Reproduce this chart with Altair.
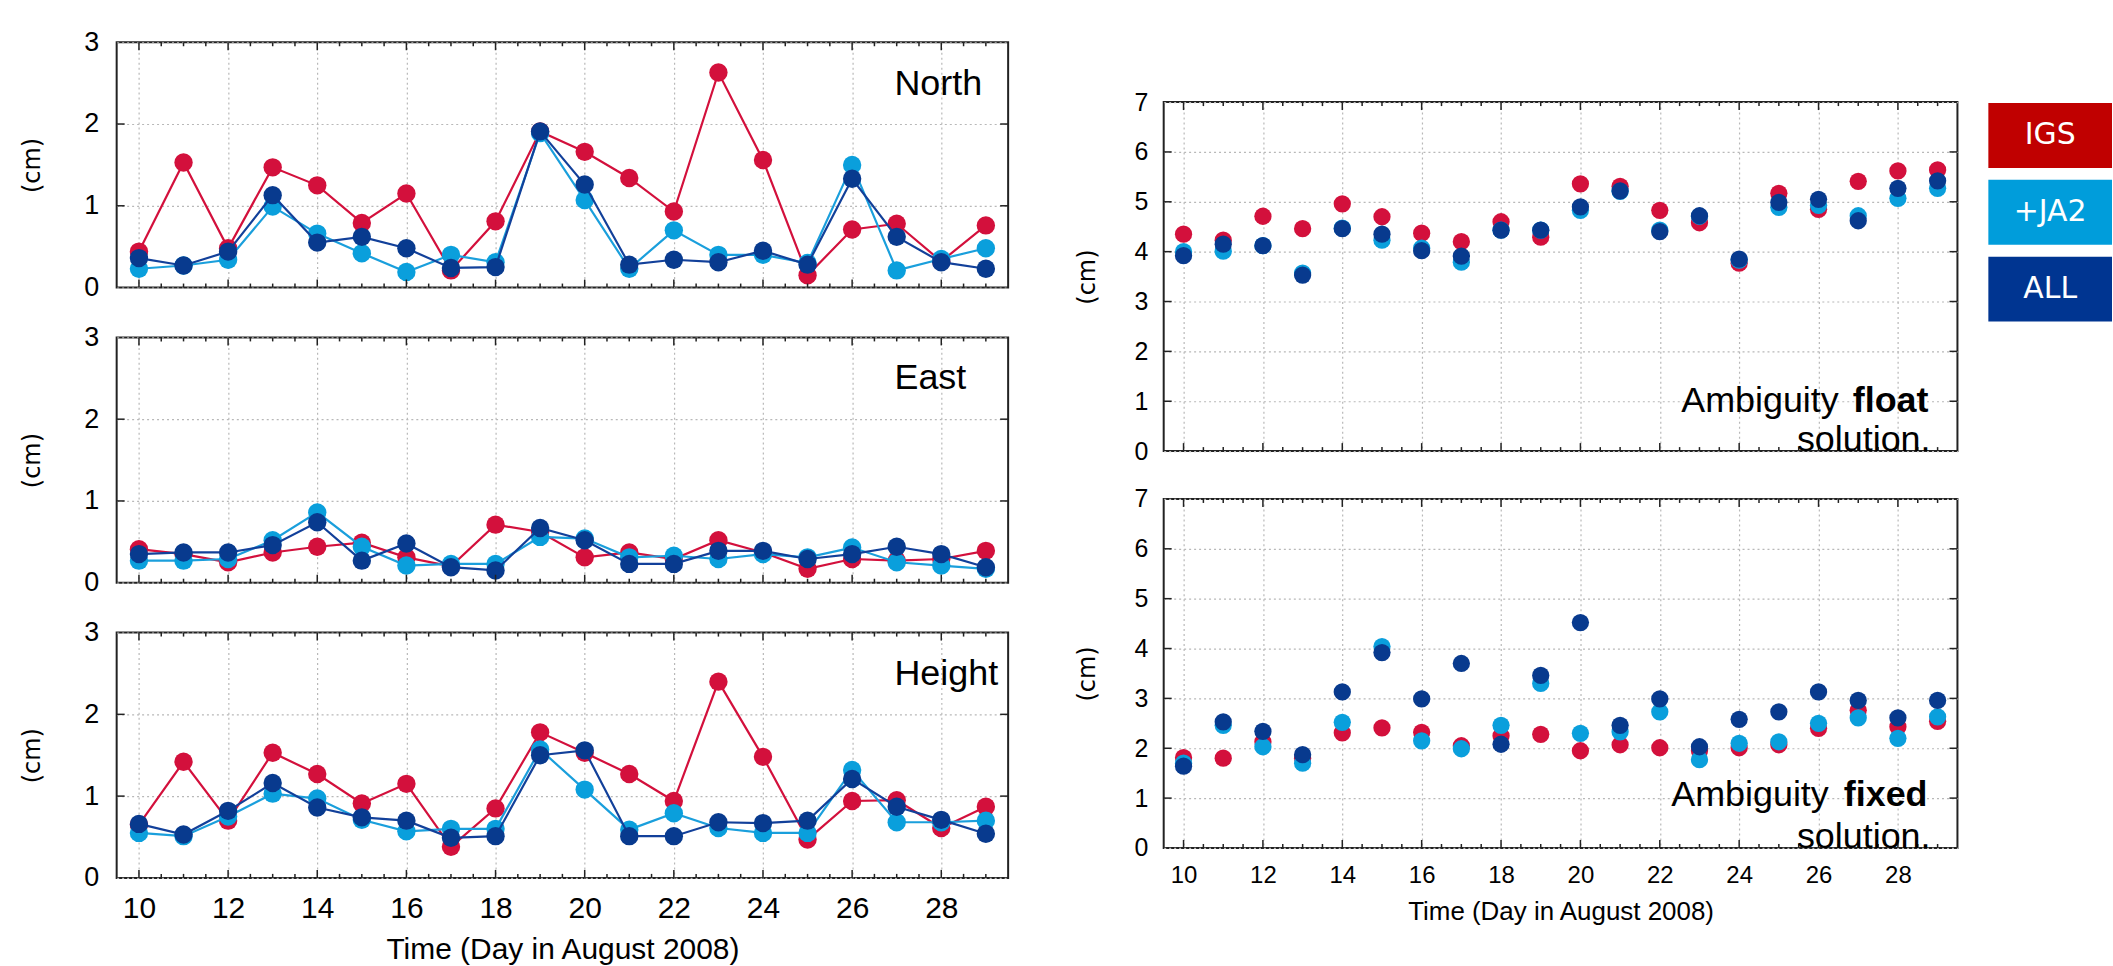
import altair as alt
import pandas as pd
import numpy as np

DAYS = [10, 11, 12, 13, 14, 15, 16, 17, 18, 19, 20, 21, 22, 23, 24, 25, 26, 27, 28, 29]
SERIES = ["IGS", "+JA2", "ALL"]

NORTH_IGS = [0.44, 1.53, 0.48, 1.47, 1.25, 0.79, 1.15, 0.21, 0.81, 1.91, 1.66, 1.34, 0.93, 2.63, 1.56, 0.15, 0.71, 0.78, 0.32, 0.76]
NORTH_JA2 = [0.23, 0.27, 0.34, 0.99, 0.66, 0.42, 0.19, 0.40, 0.31, 1.89, 1.07, 0.23, 0.70, 0.40, 0.40, 0.30, 1.50, 0.21, 0.35, 0.48]
NORTH_ALL = [0.36, 0.27, 0.44, 1.13, 0.55, 0.62, 0.48, 0.24, 0.25, 1.91, 1.26, 0.28, 0.34, 0.31, 0.45, 0.28, 1.33, 0.62, 0.31, 0.23]

EAST_IGS = [0.41, 0.35, 0.25, 0.37, 0.44, 0.49, 0.31, 0.20, 0.71, 0.62, 0.31, 0.37, 0.29, 0.52, 0.37, 0.17, 0.29, 0.27, 0.29, 0.39]
EAST_JA2 = [0.27, 0.27, 0.29, 0.52, 0.86, 0.44, 0.21, 0.23, 0.23, 0.56, 0.54, 0.31, 0.33, 0.29, 0.35, 0.31, 0.43, 0.25, 0.21, 0.17]
EAST_ALL = [0.35, 0.37, 0.37, 0.46, 0.74, 0.27, 0.48, 0.19, 0.15, 0.67, 0.52, 0.23, 0.23, 0.39, 0.39, 0.29, 0.35, 0.44, 0.35, 0.19]

HEIGHT_IGS = [0.65, 1.42, 0.70, 1.53, 1.27, 0.91, 1.15, 0.38, 0.85, 1.78, 1.53, 1.27, 0.94, 2.40, 1.48, 0.47, 0.94, 0.95, 0.61, 0.87]
HEIGHT_JA2 = [0.55, 0.51, 0.75, 1.03, 0.97, 0.71, 0.57, 0.60, 0.60, 1.57, 1.08, 0.59, 0.79, 0.61, 0.55, 0.55, 1.32, 0.68, 0.68, 0.70]
HEIGHT_ALL = [0.66, 0.53, 0.82, 1.16, 0.86, 0.74, 0.70, 0.49, 0.51, 1.50, 1.56, 0.51, 0.51, 0.68, 0.67, 0.70, 1.21, 0.87, 0.71, 0.54]

FLOAT_IGS = [4.35, 4.23, 4.71, 4.46, 4.96, 4.70, 4.37, 4.20, 4.60, 4.29, 5.36, 5.31, 4.83, 4.58, 3.77, 5.17, 4.85, 5.41, 5.62, 5.64]
FLOAT_JA2 = [4.00, 4.01, 4.12, 3.57, 4.47, 4.23, 4.07, 3.79, 4.43, 4.43, 4.83, 5.21, 4.43, 4.71, 3.83, 4.89, 4.93, 4.72, 5.07, 5.27]
FLOAT_ALL = [3.92, 4.15, 4.12, 3.53, 4.46, 4.35, 4.02, 3.91, 4.43, 4.43, 4.90, 5.22, 4.40, 4.72, 3.85, 4.99, 5.05, 4.62, 5.27, 5.42]

FIXED_IGS = [1.81, 1.80, 2.13, 1.80, 2.31, 2.41, 2.32, 2.05, 2.25, 2.28, 1.95, 2.07, 2.01, 1.95, 2.01, 2.07, 2.40, 2.76, 2.43, 2.54]
FIXED_JA2 = [1.70, 2.46, 2.03, 1.70, 2.52, 4.04, 2.15, 1.99, 2.46, 3.30, 2.30, 2.33, 2.73, 1.77, 2.10, 2.13, 2.50, 2.61, 2.20, 2.63]
FIXED_ALL = [1.64, 2.53, 2.34, 1.87, 3.13, 3.92, 2.99, 3.70, 2.08, 3.46, 4.52, 2.46, 2.99, 2.03, 2.58, 2.73, 3.13, 2.96, 2.61, 2.96]

X_LABELS = [10, 12, 14, 16, 18, 20, 22, 24, 26, 28]
X_MINOR = [10.5, 11, 11.5, 12.5, 13, 13.5, 14.5, 15, 15.5, 16.5, 17, 17.5, 18.5, 19, 19.5,
           20.5, 21, 21.5, 22.5, 23, 23.5, 24.5, 25, 25.5, 26.5, 27, 27.5, 28.5, 29]

LEGEND_LABELS = ["IGS", "+JA2", "ALL"]
LEGEND_COLORS = ["#C00000", "#009DDB", "#003591"]

POINT_COLORS = {"IGS": "#D3103C", "+JA2": "#0A9FDC", "ALL": "#083A8E"}
LINE_COLORS = {"IGS": "#D3103C", "+JA2": "#1A9FDC", "ALL": "#12409A"}

FRAME = "#222222"
GRID = "#B8B8B8"
FONT = "Liberation Sans"


def panel(arrays, W, H, ymax, lines, psize, x_axis, y_axis, texts):
    X = alt.X("day:Q", scale=alt.Scale(domain=[9.5, 29.5], nice=False, zero=False), axis=x_axis)
    Y = alt.Y("val:Q", scale=alt.Scale(domain=[0, ymax], nice=False, zero=True), axis=y_axis)
    layers = []
    for name, arr in zip(SERIES, arrays):
        d = pd.DataFrame({"day": DAYS, "val": arr})
        base = alt.Chart(d)
        if lines:
            layers.append(base.mark_line(color=LINE_COLORS[name], strokeWidth=2.2).encode(x=X, y=Y))
        layers.append(base.mark_circle(color=POINT_COLORS[name], size=psize, opacity=1).encode(x=X, y=Y))
    maj = alt.Chart(pd.DataFrame({"day": X_LABELS}))
    mnr = alt.Chart(pd.DataFrame({"day": X_MINOR}))
    ytk = alt.Chart(pd.DataFrame({"val": list(range(1, ymax))}))
    for src, ln in ((maj, 8), (mnr, 4)):
        layers.append(src.mark_rule(color=FRAME, strokeWidth=1.5).encode(
            x=X, y=alt.value(H), y2=alt.value(H - ln)))
        layers.append(src.mark_rule(color=FRAME, strokeWidth=1.5).encode(
            x=X, y=alt.value(0), y2=alt.value(ln)))
    layers.append(ytk.mark_rule(color=FRAME, strokeWidth=1.5).encode(
        y=Y, x=alt.value(0), x2=alt.value(8)))
    layers.append(ytk.mark_rule(color=FRAME, strokeWidth=1.5).encode(
        y=Y, x=alt.value(W), x2=alt.value(W - 8)))
    for txt, tx, ty, align, weight, fs in texts:
        layers.append(alt.Chart(pd.DataFrame({"t": [txt]})).mark_text(
            align=align, baseline="alphabetic", fontSize=fs, font=FONT,
            fontWeight=weight, color="#000").encode(
            x=alt.value(tx), y=alt.value(ty), text="t:N"))
    return alt.layer(*layers).properties(width=W, height=H)


def x_axis(show, label_size, title_size, title_y):
    kw = dict(values=X_LABELS, grid=True, gridDash=[2, 3], gridColor=GRID, gridWidth=1.2,
              ticks=False, domain=False, format="d")
    if show:
        kw.update(labels=True, labelFontSize=label_size, labelPadding=16, labelFont=FONT,
                  labelColor="#000", title="Time (Day in August 2008)", titleFontSize=title_size,
                  titleFont=FONT, titleFontWeight="normal", titleColor="#000",
                  titleY=title_y, titleBaseline="middle")
    else:
        kw.update(labels=False, title=None)
    return alt.Axis(**kw)


def y_axis(ymax, label_size, pad, tx, ty):
    return alt.Axis(values=list(range(0, ymax + 1)), grid=True, gridDash=[2, 3], gridColor=GRID,
                    gridWidth=1.2, ticks=False, domain=False, labelFontSize=label_size,
                    labelPadding=pad, labelFont=FONT, labelColor="#000", format="d",
                    title="(cm)", titleFont="DejaVu Sans", titleFontSize=24,
                    titleFontWeight="normal", titleColor="#000", titleAngle=270,
                    titleX=tx, titleY=ty, titleBaseline="middle", titleAlign="center")


LW, LH = 894, 246
RW, RH = 796, 350

north = panel([NORTH_IGS, NORTH_JA2, NORTH_ALL], LW, LH, 3, True, 340,
              x_axis(False, 30, 30, 72), y_axis(3, 27, 18, -84, LH / 2),
              [("North", 780, 53, "left", "normal", 36)])
east = panel([EAST_IGS, EAST_JA2, EAST_ALL], LW, LH, 3, True, 340,
             x_axis(False, 30, 30, 72), y_axis(3, 27, 18, -84, LH / 2),
             [("East", 780, 52, "left", "normal", 36)])
height = panel([HEIGHT_IGS, HEIGHT_JA2, HEIGHT_ALL], LW, LH, 3, True, 340,
               x_axis(True, 30, 30, 72), y_axis(3, 27, 18, -84, LH / 2),
               [("Height", 780, 53, "left", "normal", 36)])

floatp = panel([FLOAT_IGS, FLOAT_JA2, FLOAT_ALL], RW, RH, 7, False, 300,
               x_axis(False, 24, 26, 64), y_axis(7, 25, 16, -76, RH / 2),
               [("Ambiguity", 519, 311, "left", "normal", 36),
                ("float", 691, 311, "left", "bold", 36),
                ("solution.", 769, 350, "right", "normal", 36)])
fixedp = panel([FIXED_IGS, FIXED_JA2, FIXED_ALL], RW, RH, 7, False, 300,
               x_axis(True, 24, 26, 64), y_axis(7, 25, 16, -76, RH / 2),
               [("Ambiguity", 509, 308, "left", "normal", 36),
                ("fixed", 682, 308, "left", "bold", 36),
                ("solution.", 769, 350, "right", "normal", 36)])

spacer = alt.Chart(pd.DataFrame({"v": [0]})).mark_point(opacity=0).encode(
    x=alt.value(0), y=alt.value(0)).properties(
    width=RW, height=12, view=alt.ViewBackground(stroke="transparent"))

leg_df = pd.DataFrame({"label": LEGEND_LABELS, "color": LEGEND_COLORS})
leg_scale = alt.Scale(domain=LEGEND_LABELS, paddingInner=0.156, paddingOuter=0.396, align=1)
leg_boxes = alt.Chart(leg_df).mark_rect().encode(
    y=alt.Y("label:N", scale=leg_scale, axis=None, sort=LEGEND_LABELS),
    x=alt.value(0), x2=alt.value(124),
    color=alt.Color("color:N", scale=None))
leg_text = alt.Chart(leg_df).mark_text(color="white", fontSize=30, font="DejaVu Sans").encode(
    y=alt.Y("label:N", scale=leg_scale, axis=None, sort=LEGEND_LABELS),
    x=alt.value(62), text="label:N")
legend = alt.layer(leg_boxes, leg_text).properties(
    width=124, height=280, view=alt.ViewBackground(stroke="transparent"))

left = alt.vconcat(north, east, height, spacing=50, bounds="flush")
right = alt.vconcat(spacer, floatp, fixedp, spacing=48, bounds="flush")
right_leg = alt.hconcat(right, legend, spacing=28)

chart = alt.hconcat(left, right_leg, spacing=65).properties(
    padding={"left": 20, "top": 26, "right": 0, "bottom": 0},
    background="white",
).configure_view(stroke=FRAME, strokeWidth=2)

chart.save("out.html", embed_options={"renderer": "svg", "actions": False})
